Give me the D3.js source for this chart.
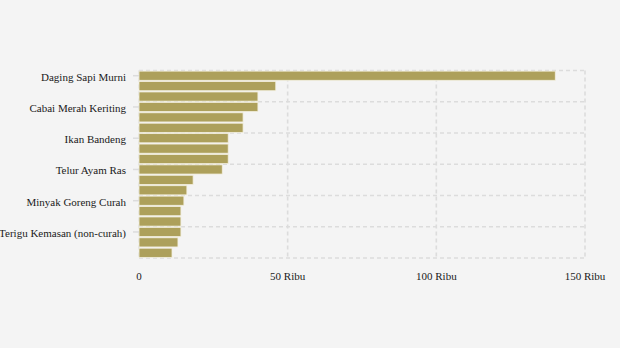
<!DOCTYPE html>
<html>
<head>
<meta charset="utf-8">
<script src="https://cdn.jsdelivr.net/npm/d3@7"></script>
<style>
  html, body { margin: 0; padding: 0; background: #f4f4f4; }
  svg { display: block; }
  text { font-family: "Liberation Serif", "Times New Roman", serif; }
</style>
</head>
<body>
<svg id="chart" width="620" height="348"></svg>
<script>
// Categories (only every third label is shown in the reference)
const categories = [
  "Daging Sapi Murni", "Daging Ayam Ras", "Cabai Merah Besar",
  "Cabai Merah Keriting", "Cabai Rawit Merah", "Cabai Rawit Hijau",
  "Ikan Bandeng", "Bawang Putih", "Bawang Merah",
  "Telur Ayam Ras", "Minyak Goreng Kemasan", "Gula Pasir",
  "Minyak Goreng Curah", "Beras Premium", "Terigu Curah",
  "Terigu Kemasan (non-curah)", "Beras Medium", "Jagung Pipilan"
];
// Values in Rupiah
const values = [
  140000, 46000, 40000,
  40000, 35000, 35000,
  30000, 30000, 30000,
  28000, 18200, 16100,
  15100, 14100, 14100,
  14100, 13100, 11100
];
const xTickValues = [0, 50000, 100000, 150000];
const xTickLabels = ["0", "50 Ribu", "100 Ribu", "150 Ribu"];
const labelEvery = 3;

const svg = d3.select("#chart");
const margin = { left: 139, right: 35, top: 70.5, bottom: 90 };
const plotBottom = 258;

const x = d3.scaleLinear().domain([0, 150000]).range([margin.left, 585]);
const y = d3.scaleBand().domain(categories).range([margin.top, plotBottom]).paddingInner(0.12).paddingOuter(0.06);
const yStep = (plotBottom - margin.top) / categories.length;

const grid = svg.append("g");
grid.selectAll("line.v").data(xTickValues).join("line")
  .attr("x1", d => x(d)).attr("x2", d => x(d))
  .attr("y1", margin.top).attr("y2", plotBottom)
  .attr("stroke", "#dcdcdc").attr("stroke-width", 1.6).attr("stroke-dasharray", "4,3");
const hLines = d3.range(0, categories.length + 1, labelEvery).map(i => margin.top + i * yStep);
grid.selectAll("line.h").data(hLines).join("line")
  .attr("x1", x(0)).attr("x2", x(150000))
  .attr("y1", d => d).attr("y2", d => d)
  .attr("stroke", "#dcdcdc").attr("stroke-width", 1.6).attr("stroke-dasharray", "4,3");

svg.append("g").selectAll("rect").data(categories).join("rect")
  .attr("x", x(0))
  .attr("y", d => y(d))
  .attr("width", (d, i) => x(values[i]) - x(0))
  .attr("height", y.bandwidth())
  .attr("fill", "#ada05b")
  .attr("stroke", "#f3efdf").attr("stroke-width", 0.8);

const shown = categories.filter((d, i) => i % labelEvery === 0);
const yAxis = svg.append("g");
yAxis.selectAll("line").data(shown).join("line")
  .attr("x1", 133).attr("x2", 139)
  .attr("y1", d => y(d) + y.bandwidth() / 2).attr("y2", d => y(d) + y.bandwidth() / 2)
  .attr("stroke", "#dcdcdc").attr("stroke-width", 1.5);
yAxis.selectAll("text").data(shown).join("text")
  .attr("x", 126)
  .attr("y", d => y(d) + y.bandwidth() / 2)
  .attr("dy", "0.45em")
  .attr("text-anchor", "end")
  .attr("font-size", 11)
  .attr("fill", "#1a1a1a")
  .text(d => d);

svg.append("g").selectAll("text").data(xTickValues).join("text")
  .attr("x", d => x(d))
  .attr("y", 280)
  .attr("text-anchor", "middle")
  .attr("font-size", 11)
  .attr("fill", "#1a1a1a")
  .text((d, i) => xTickLabels[i]);
</script>
</body>
</html>
